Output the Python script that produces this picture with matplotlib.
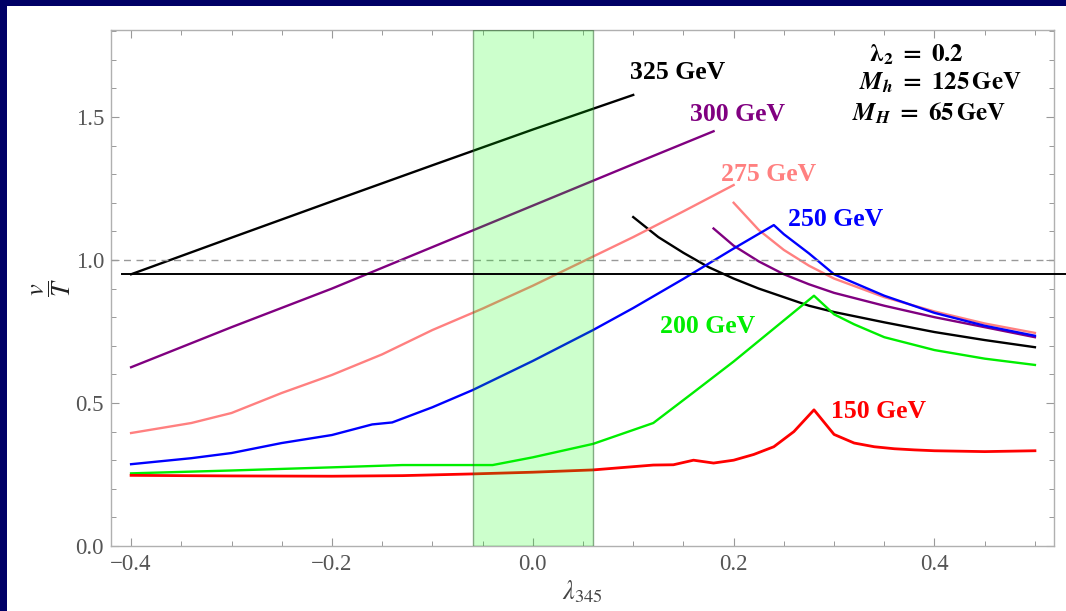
import matplotlib
matplotlib.use("Agg")
import matplotlib.pyplot as plt
from matplotlib.patches import Rectangle
from matplotlib.ticker import MultipleLocator, FuncFormatter

plt.rcParams['font.family'] = ['Liberation Serif', 'DejaVu Serif']
plt.rcParams['mathtext.fontset'] = 'stix'

# ---- data ----
# 325 GeV: rising and falling branch
m325_up_x = [-0.4, -0.3, -0.2, -0.1, 0.0, 0.1]
m325_up_y = [0.95, 1.078, 1.205, 1.331, 1.456, 1.577]
m325_dn_x = [0.1, 0.125, 0.15, 0.175, 0.2, 0.225, 0.25, 0.275, 0.3, 0.35, 0.4, 0.45, 0.5]
m325_dn_y = [1.15, 1.08, 1.025, 0.975, 0.935, 0.90, 0.87, 0.84, 0.818, 0.782, 0.748, 0.72, 0.695]

# 300 GeV
m300_up_x = [-0.4, -0.3, -0.2, -0.1, 0.0, 0.1, 0.18]
m300_up_y = [0.625, 0.765, 0.90, 1.045, 1.19, 1.335, 1.45]
m300_dn_x = [0.18, 0.2, 0.225, 0.25, 0.275, 0.3, 0.35, 0.4, 0.45, 0.5]
m300_dn_y = [1.11, 1.05, 0.995, 0.95, 0.915, 0.885, 0.84, 0.80, 0.765, 0.73]

# 275 GeV
m275_up_x = [-0.4, -0.34, -0.3, -0.25, -0.2, -0.15, -0.1, -0.05, 0.0, 0.05, 0.1, 0.15, 0.2]
m275_up_y = [0.395, 0.43, 0.465, 0.535, 0.598, 0.67, 0.755, 0.83, 0.91, 0.995, 1.08, 1.17, 1.262]
m275_dn_x = [0.2, 0.225, 0.25, 0.275, 0.3, 0.35, 0.4, 0.45, 0.5]
m275_dn_y = [1.20, 1.105, 1.035, 0.98, 0.935, 0.87, 0.82, 0.778, 0.745]

# 250 GeV (one curve through the peak)
m250_x = [-0.4, -0.34, -0.3, -0.25, -0.2, -0.16, -0.14, -0.1, -0.06, 0.0, 0.06, 0.1, 0.15, 0.2,
          0.24, 0.25, 0.275, 0.3, 0.35, 0.4, 0.45, 0.5]
m250_y = [0.286, 0.307, 0.325, 0.36, 0.388, 0.425, 0.432, 0.485, 0.545, 0.647, 0.755, 0.832, 0.934, 1.04,
          1.122, 1.09, 1.023, 0.95, 0.875, 0.815, 0.77, 0.735]

# 200 GeV
m200_x = [-0.4, -0.3, -0.2, -0.13, -0.04, 0.0, 0.06, 0.12, 0.16, 0.2, 0.24, 0.28,
          0.3, 0.32, 0.35, 0.4, 0.45, 0.5]
m200_y = [0.254, 0.264, 0.275, 0.283, 0.283, 0.31, 0.357, 0.43, 0.537, 0.645, 0.76, 0.875,
          0.81, 0.775, 0.73, 0.685, 0.655, 0.633]

# 150 GeV
m150_x = [-0.4, -0.3, -0.2, -0.13, -0.06, 0.0, 0.06, 0.12, 0.14, 0.16, 0.18, 0.2, 0.22, 0.24,
          0.26, 0.28, 0.3, 0.32, 0.34, 0.36, 0.38, 0.4, 0.45, 0.5]
m150_y = [0.247, 0.245, 0.244, 0.246, 0.252, 0.258, 0.266, 0.283, 0.284, 0.30, 0.29, 0.30, 0.32, 0.347,
          0.40, 0.476, 0.39, 0.36, 0.347, 0.34, 0.336, 0.333, 0.33, 0.333]

band_lo, band_hi = -0.06, 0.06
vt_line = 0.95
vt_ref = 1.0

navy = '#000066'
c_purple = '#800080'
c_pink = '#ff8080'
c_blue = '#0000ff'
c_green = '#00ee00'
c_red = '#ff0000'

fig = plt.figure(figsize=(10.66, 6.11), dpi=100, facecolor=navy)
# white slide area (navy strip only on top and left)
fig.patches.append(Rectangle((0.0069, 0.0), 1.0, 0.9907, transform=fig.transFigure,
                             facecolor='white', edgecolor='none', zorder=-10))
ax = fig.add_axes([0.10413, 0.10638, 0.88462, 0.84452])
ax.set_zorder(2)
ax.set_facecolor('white')

lw = 1.7
ax.plot(m325_up_x, m325_up_y, color='black', lw=lw)
ax.plot(m325_dn_x, m325_dn_y, color='black', lw=lw)
ax.plot(m300_up_x, m300_up_y, color=c_purple, lw=lw)
ax.plot(m300_dn_x, m300_dn_y, color=c_purple, lw=lw)
ax.plot(m275_up_x, m275_up_y, color=c_pink, lw=lw)
ax.plot(m275_dn_x, m275_dn_y, color=c_pink, lw=lw)
ax.plot(m250_x, m250_y, color=c_blue, lw=lw)
ax.plot(m200_x, m200_y, color=c_green, lw=lw)
ax.plot(m150_x, m150_y, color=c_red, lw=2.0)

# allowed region band, drawn on top of the curves
ax.axvspan(band_lo, band_hi, facecolor=(0, 1, 0, 0.2), edgecolor=(0.2, 0.4, 0.2, 0.55),
           lw=1.0, zorder=5)

ax.axhline(vt_ref, color='#999999', lw=1.0, ls=(0, (5, 4)), zorder=4)
ax.axhline(vt_line, xmin=0.012, xmax=1.013, color='black', lw=1.4, clip_on=False, zorder=6)

# curve labels
lab = dict(fontsize=18.5, fontweight='bold', ha='left', va='center')
ax.text(0.097, 1.657, '325 GeV', color='black', **lab)
ax.text(0.157, 1.51, '300 GeV', color=c_purple, **lab)
ax.text(0.187, 1.30, '275 GeV', color=c_pink, **lab)
ax.text(0.254, 1.142, '250 GeV', color=c_blue, **lab)
ax.text(0.127, 0.767, '200 GeV', color=c_green, **lab)
ax.text(0.297, 0.47, '150 GeV', color=c_red, **lab)

par = dict(fontsize=18, ha='left', va='center', color='black')
ax.text(0.335, 1.717, r'$\mathbf{\lambda_2}\ \mathbf{=}\ \mathbf{0.2}$', **par)
ax.text(0.325, 1.618, r'$\mathbfit{M}_{\mathbfit{h}}\ \mathbf{=}\ \mathbf{125\,GeV}$', **par)
ax.text(0.318, 1.513, r'$\mathbfit{M}_{\mathbfit{H}}\ \mathbf{=}\ \mathbf{65\,GeV}$', **par)

ax.set_xlim(-0.42, 0.519)
ax.set_ylim(0, 1.804)

ax.xaxis.set_major_locator(MultipleLocator(0.2))
ax.xaxis.set_minor_locator(MultipleLocator(0.05))
ax.yaxis.set_major_locator(MultipleLocator(0.5))
ax.yaxis.set_minor_locator(MultipleLocator(0.1))
fmt = FuncFormatter(lambda v, p: ('%.1f' % v).replace('-', '\u2212'))
ax.xaxis.set_major_formatter(fmt)
ax.yaxis.set_major_formatter(fmt)

ax.tick_params(which='both', direction='in', top=True, right=True, color='#999999',
               labelcolor='#555555', labelsize=16.5)
ax.tick_params(which='major', length=6, width=0.8)
ax.tick_params(which='minor', length=3.5, width=0.7)
ax.tick_params(axis='x', pad=6)
ax.tick_params(axis='y', pad=5)
for s in ax.spines.values():
    s.set_color('#b0b0b0')
    s.set_linewidth(1.0)

ax.set_xlabel(r'$\lambda_{345}$', fontsize=19, color='#444444', labelpad=2)
ax.set_ylabel(r'$\dfrac{v}{T}$', fontsize=19, color='#222222', labelpad=2)

fig.savefig('out.png', dpi=100, facecolor=navy)
